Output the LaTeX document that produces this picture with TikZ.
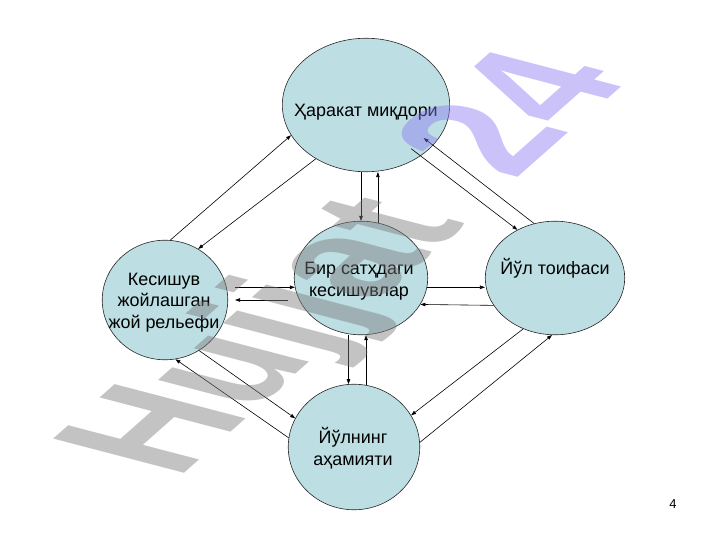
\documentclass[tikz,border=0pt]{standalone}
\usepackage{fontspec}
\setmainfont{Liberation Sans}
\usetikzlibrary{shapes.geometric,arrows.meta}

\begin{document}
\begin{tikzpicture}[x=1bp,y=-1bp,
  blob/.style={ellipse,draw=black!85,fill=tealish,line width=0.6pt},
  lbl/.style={font=\fontsize{18}{21.5}\selectfont,align=center,inner sep=0pt},
  link/.style={-{Triangle[length=5pt,width=3.5pt]},line width=0.6pt}]
\definecolor{tealish}{HTML}{BDDEE2}
\definecolor{wmgray}{HTML}{7A7A7A}
\definecolor{wmlilac}{HTML}{8A78F2}
\useasboundingbox (0,0) rectangle (720,540);
% the five ellipses
\foreach \nm/\xx/\yy/\ww/\hh in {T/366/105/168/134,C/361/278/134/114,L/165/300/126/120,R/555/278/140/114,B/354/447/132/126}
  {  \node [blob,minimum width=\ww,minimum height=\hh] (\nm) at (\xx,\yy) {};}
\node [lbl] (Tt) at (366,112.5) {Ҳаракат миқдори};
\node [lbl] (Ct) at (359,281) {Бир сатҳдаги\\кесишувлар};
\node [lbl] (Lt) at (164,302.5) {Кесишув\\жойлашган\\жой рельефи};
\node [lbl] (Rt) at (555,268.5) {Йўл тоифаси};
\node [lbl] (Bt) at (353,448) {Йўлнинг\\аҳамияти};
% arrows between them
\draw [link] (L.85) -- (T.202);
\draw [link] (T.227) -- (L.57);
\draw [link] (C.north |- T.south) -- (C.north);
\draw [link] (C.73) -- (C.73 |- T.south);
\draw [link,shorten >=-12pt] (R.111) -- (T.329);
\draw [link,shorten <=-12pt] (T.317) -- (R.128);
\draw [link,shorten <=7pt] (L.east |- C.188) -- (C.188);
\draw [link,shorten <=6pt,shorten >=7pt] (C.west |- L.east) -- (L.east);
\draw [link] (C.352) -- (C.352 -| R.west);
\draw [link] (R.204) -- (C.336);
\draw [link] (B.95 |- C.south) -- (B.95);
\draw [link] (B.79) -- (B.79 |- C.south);
\draw [link] (L.304) -- (B.154);
\draw [link] (B.172) -- (L.280);
\draw [link] (R.238) -- (B.29);
\draw [link] (B.4) -- (R.267);
\node [font=\fontsize{13}{13}\selectfont] (pg) at (673,504) {4};
% watermark
\begin{scope}[shift={(177,480)},cm={1.05,0.93,-1.91,0.5,(0,0)},transform shape]
\node [anchor=base west,inner sep=0pt,text opacity=0.45,font=\fontsize{100}{100}\selectfont\bfseries] (wm) at (0,0) {\color{wmgray}Hujjat\hspace{0.45em}\color{wmlilac}24};
\end{scope}
\end{tikzpicture}
\end{document}
